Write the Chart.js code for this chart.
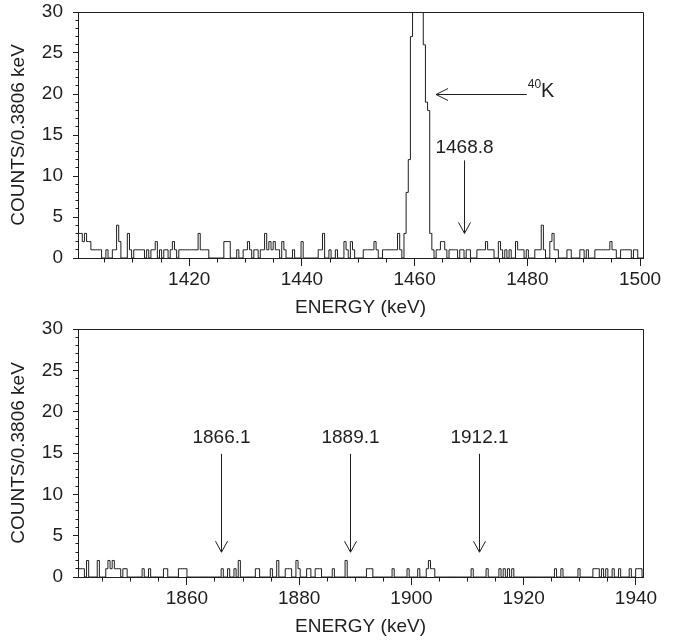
<!DOCTYPE html>
<html lang="en">
<head>
<meta charset="UTF-8">
<title>Background spectrum</title>
<script src="https://cdn.jsdelivr.net/npm/chart.js@4"></script>
<style>
  body { margin: 0; background: #fff; overflow: hidden; width: 681px; height: 642px; }
  .panel { position: absolute; left: 0; }
  #top { top: -10px; }
  #bottom { top: 307px; }
</style>
</head>
<body>
<canvas id="top" class="panel" width="681" height="331"></canvas>
<canvas id="bottom" class="panel" width="681" height="332"></canvas>
<script>
// channel width of the spectrum (keV)
const BIN = 0.3806;

// 1400-1500 keV window, counts per channel starting at 1400.26 keV
const topStart = 1400.26;
const topCounts = [
  3,3,2,3,2,2,1,1,1,1, 1,0,0,1,0,0,1,1,4,2,
  0,0,0,3,1,0,1,1,1,1, 1,0,1,0,1,1,2,0,1,0,
  1,1,0,1,2,1,0,1,1,1, 1,1,1,1,1,1,3,1,1,1,
  1,0,0,0,0,0,0,0,2,2, 2,0,0,0,1,0,0,1,1,2,
  1,0,1,1,0,1,1,3,1,2, 1,2,1,1,0,2,1,0,0,0,
  1,0,0,0,2,0,0,0,0,0, 0,0,1,1,3,0,0,1,0,0,
  1,0,0,0,2,1,0,2,1,0, 0,0,0,1,1,1,1,1,2,1,
  0,0,1,1,1,1,1,1,1,3, 1,0,3,8,12,27,44,63,71,58,
  37,26,19,18,3,1,0,1,1,2, 2,1,0,1,1,1,1,0,1,1,
  0,1,1,0,0,0,1,1,1,1, 2,1,1,1,0,0,2,1,0,1,
  0,1,0,0,2,1,1,1,0,1, 0,0,0,1,1,1,4,1,0,0,
  2,3,1,1,0,0,0,0,1,1, 0,0,0,0,1,1,0,1,0,0,
  0,1,1,1,1,1,1,1,2,1, 1,0,0,1,1,1,1,1,0,1,
  1,0,0,0
];
const topRange = [1400.26, 1500.53];
const topTicks = [1420, 1440, 1460, 1480, 1500];
const topLines = [1468.8];

// 1840-1940 keV window, counts per channel starting at 1840.60 keV
const bottomStart = 1840.60;
const bottomCounts = [
  1,1,1,0,2,0,0,0,0,2, 0,0,0,1,2,1,2,1,1,1,
  0,1,1,0,0,0,0,0,0,0, 1,0,0,1,0,0,0,0,0,0,
  1,1,0,0,0,0,0,1,1,1, 1,0,0,0,0,0,0,0,0,0,
  0,0,0,0,0,0,0,1,0,0, 1,0,0,1,0,2,0,0,0,0,
  0,0,0,1,1,0,0,0,0,0, 1,0,0,2,0,0,0,1,1,1,
  0,0,2,1,0,0,0,1,1,0, 0,1,1,1,0,0,0,0,0,1,
  0,0,0,0,0,2,0,0,0,0, 0,0,0,0,0,1,1,1,0,0,
  0,0,0,0,0,0,0,1,0,0, 0,0,0,0,1,0,0,0,0,1,
  0,0,0,1,2,1,1,0,0,0, 0,0,0,0,0,0,0,0,0,0,
  0,0,0,0,1,0,0,0,0,0, 0,1,0,0,0,0,0,1,0,1,
  0,1,0,1,0,0,0,0,0,0, 0,0,0,0,0,0,0,0,0,0,
  0,0,0,1,0,0,1,0,0,0, 0,0,0,0,1,0,0,0,0,0,
  0,1,1,1,0,1,0,1,0,0, 1,0,0,1,0,0,0,0,1,0,
  0,1,1,1,0
];
const bottomRange = [1840.60, 1941.25];
const bottomTicks = [1860, 1880, 1900, 1920, 1940];
const bottomLines = [1866.1, 1889.1, 1912.1];

const countTicks = [0, 5, 10, 15, 20, 25, 30];

// 40K marker: arrow from label energy back to the peak, at this count level
const k40 = { from: 1479.9, to: 1463.8, counts: 20 };

const INK = '#1e1e1e';
const FONT = '"Liberation Sans", Arial, Helvetica, sans-serif';
Chart.defaults.font.family = FONT;
Chart.defaults.font.size = 19;
Chart.defaults.color = INK;

// step outline: one point per channel edge
function histogram(counts, start) {
  const pts = counts.map((c, i) => ({ x: start + i * BIN, y: c }));
  pts.push({ x: start + counts.length * BIN, y: 0 });
  return pts;
}

const snap = v => Math.round(v - 0.5) + 0.5;

// frame, minor ticks and the line markers
const decor = {
  id: 'decor',
  afterDraw(chart, args, opts) {
    const { ctx, chartArea: a } = chart;
    const x = chart.scales.x, y = chart.scales.y;
    ctx.save();
    ctx.strokeStyle = INK;
    ctx.fillStyle = INK;
    ctx.lineWidth = 1;

    ctx.beginPath();
    ctx.moveTo(snap(a.left), snap(a.top));
    ctx.lineTo(snap(a.right), snap(a.top));
    ctx.lineTo(snap(a.right), snap(a.bottom));
    for (let v = y.min + 1; v < y.max; v++) {
      if (v % 5 === 0) continue;
      const py = snap(y.getPixelForValue(v));
      ctx.moveTo(snap(a.left) - 3, py);
      ctx.lineTo(snap(a.left), py);
    }
    for (let e = Math.ceil(x.min / 5) * 5; e <= x.max; e += 5) {
      if (e % 20 === 0) continue;
      const px = snap(x.getPixelForValue(e));
      ctx.moveTo(px, snap(a.bottom));
      ctx.lineTo(px, snap(a.bottom) + 4);
    }
    ctx.stroke();

    ctx.font = '19px ' + FONT;
    ctx.textAlign = 'center';
    ctx.textBaseline = 'middle';
    opts.lines.forEach(e => {
      const px = snap(x.getPixelForValue(e));
      const tip = y.getPixelForValue(opts.tip);
      const tail = y.getPixelForValue(opts.tail);
      ctx.beginPath();
      ctx.moveTo(px, tail);
      ctx.lineTo(px, tip);
      ctx.moveTo(px - 6, tip - 11);
      ctx.lineTo(px, tip);
      ctx.lineTo(px + 6, tip - 11);
      ctx.stroke();
      ctx.fillText(e.toFixed(1), px, y.getPixelForValue(opts.label));
    });

    if (opts.k40) {
      const x0 = x.getPixelForValue(opts.k40.from);
      const x1 = x.getPixelForValue(opts.k40.to);
      const py = snap(y.getPixelForValue(opts.k40.counts));
      ctx.beginPath();
      ctx.moveTo(x0, py);
      ctx.lineTo(x1, py);
      ctx.moveTo(x1 + 12, py - 6);
      ctx.lineTo(x1, py);
      ctx.lineTo(x1 + 12, py + 6);
      ctx.stroke();
      ctx.textAlign = 'left';
      ctx.font = '12px ' + FONT;
      ctx.fillText('40', x0 + 1, py - 10);
      const w = ctx.measureText('40').width;
      ctx.font = '20px ' + FONT;
      ctx.fillText('K', x0 + w + 1, py - 3);
    }
    ctx.restore();
  }
};

function panel(id, counts, start, range, ticks, xHeight, titlePad, marks) {
  return new Chart(document.getElementById(id), {
    type: 'line',
    data: {
      datasets: [{
        data: histogram(counts, start),
        stepped: true,
        borderColor: INK,
        borderWidth: 1,
        pointRadius: 0,
        fill: false
      }]
    },
    options: {
      responsive: false,
      animation: false,
      layout: { padding: { top: 22, right: 38, bottom: 0, left: 0 } },
      plugins: {
        legend: { display: false },
        tooltip: { enabled: false },
        decor: marks
      },
      scales: {
        x: {
          type: 'linear',
          min: range[0],
          max: range[1],
          afterBuildTicks: s => { s.ticks = ticks.map(v => ({ value: v })); },
          afterFit: s => { s.height = xHeight; },
          grid: { drawOnChartArea: false, tickLength: 8, color: INK },
          border: { color: INK },
          ticks: { padding: 2, callback: v => String(v) },
          title: { display: true, text: 'ENERGY (keV)', padding: { top: 0, bottom: titlePad } }
        },
        y: {
          min: 0,
          max: 30,
          afterBuildTicks: s => { s.ticks = countTicks.map(v => ({ value: v })); },
          afterFit: s => { s.width = 78; },
          grid: { drawOnChartArea: false, tickLength: 5, color: INK },
          border: { color: INK },
          ticks: { padding: 10, callback: v => String(v) },
          title: { display: true, text: 'COUNTS/0.3806 keV', padding: { top: 7, bottom: 0 } }
        }
      }
    },
    plugins: [decor]
  });
}

panel('top', topCounts, topStart, topRange, topTicks, 63, 1.6,
  { lines: topLines, tip: 3, tail: 11.9, label: 13.5, k40: k40 });
panel('bottom', bottomCounts, bottomStart, bottomRange, bottomTicks, 62, 0.6,
  { lines: bottomLines, tip: 3, tail: 14.9, label: 16.8 });
</script>
</body>
</html>
